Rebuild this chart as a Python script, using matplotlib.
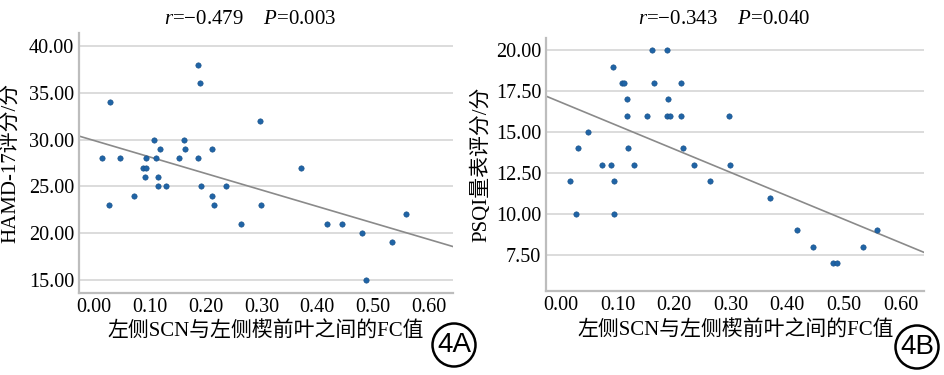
import numpy as np
import matplotlib
matplotlib.use("Agg")
import matplotlib.pyplot as plt
from matplotlib.patches import Ellipse

plt.rcParams["font.family"] = ["Liberation Serif", "Noto Sans CJK SC"]
plt.rcParams["mathtext.fontset"] = "custom"
plt.rcParams["mathtext.rm"] = "Liberation Serif"
plt.rcParams["mathtext.it"] = "Liberation Serif:italic"

# FC values (same subjects in both panels)
fc = [0.016, 0.027, 0.030, 0.047, 0.073, 0.088, 0.092, 0.093, 0.094, 0.108,
      0.112, 0.116, 0.116, 0.119, 0.130, 0.152, 0.161, 0.164, 0.187, 0.187,
      0.190, 0.192, 0.212, 0.212, 0.215, 0.236, 0.263, 0.297, 0.299, 0.370,
      0.418, 0.445, 0.480, 0.487, 0.533, 0.558]
hamd = [28, 23, 34, 28, 24, 27, 26, 28, 27, 30,
        28, 26, 25, 29, 25, 28, 30, 29, 28, 38,
        36, 25, 29, 24, 23, 25, 21, 32, 23, 27,
        21, 21, 20, 15, 19, 22]
psqi = [12, 10, 14, 15, 13, 13, 19, 10, 12, 18,
        18, 17, 16, 14, 13, 16, 20, 18, 20, 16,
        17, 16, 18, 16, 14, 13, 12, 16, 13, 11,
        9, 8, 7, 7, 8, 9]

xticks = [0.0, 0.1, 0.2, 0.3, 0.4, 0.5, 0.6]
xlabel = "左侧SCN与左侧楔前叶之间的FC值"

panels = [
    dict(y=hamd, ylabel="HAMD-17评分/分", yticks=[15, 20, 25, 30, 35, 40],
         ylim=(13.6, 41.4), rect=[0.0836, 0.219, 0.3954, 0.693], lx=-0.158,
         title="$r$=−0.479    $P$=0.003", tx=0.265, tag="4A", cx=454, cy=345),
    dict(y=psqi, ylabel="PSQI量表评分/分", yticks=[7.5, 10, 12.5, 15, 17.5, 20],
         ylim=(5.29, 20.73), rect=[0.578, 0.224, 0.400, 0.674], lx=-0.146,
         title="$r$=−0.343    $P$=0.040", tx=0.766, tag="4B", cx=917, cy=347),
]

fig = plt.figure(figsize=(9.45, 3.75), dpi=100)
x = np.array(fc)
for p in panels:
    ax = fig.add_axes(p["rect"])
    y = np.array(p["y"], dtype=float)
    ax.set_xlim(-0.026, 0.642)
    ax.set_ylim(*p["ylim"])
    for yt in p["yticks"]:
        ax.axhline(yt, color="#dcdcdc", lw=1.4, zorder=0)
    k, b = np.polyfit(x, y, 1)
    xx = np.array(ax.get_xlim())
    ax.plot(xx, k * xx + b, color="#8a8a8a", lw=1.2, zorder=1)
    ax.scatter(x, y, s=15, color="#1f64a6", edgecolors="#1a4f85",
               linewidths=0.4, zorder=2)
    ax.set_xticks(xticks)
    ax.set_xticklabels(["%.2f" % t for t in xticks])
    ax.set_yticks(p["yticks"])
    ax.set_yticklabels(["%.2f" % t for t in p["yticks"]])
    ax.tick_params(length=0, labelsize=14.5, pad=3.5)
    for s in ["top", "right"]:
        ax.spines[s].set_visible(False)
    for s in ["left", "bottom"]:
        ax.spines[s].set_color("#bdbdbd")
        ax.spines[s].set_linewidth(1.6)
    ax.set_xlabel(xlabel, fontsize=15, labelpad=4)
    ax.set_ylabel(p["ylabel"], fontsize=15)
    ax.yaxis.set_label_coords(p["lx"], 0.5)
    fig.text(p["tx"], 0.947, p["title"], fontsize=15, ha="center", va="center")
    # circled panel tag
    cx, cy = p["cx"] / 945, 1 - p["cy"] / 375
    fig.add_artist(Ellipse((cx, cy), 43 / 945, 43 / 375,
                           transform=fig.transFigure, fill=False, lw=1.8, color="black"))
    fig.text(cx, cy, p["tag"], fontsize=20, ha="center", va="center",
             family="Liberation Sans")

plt.savefig("out.png", dpi=100)
